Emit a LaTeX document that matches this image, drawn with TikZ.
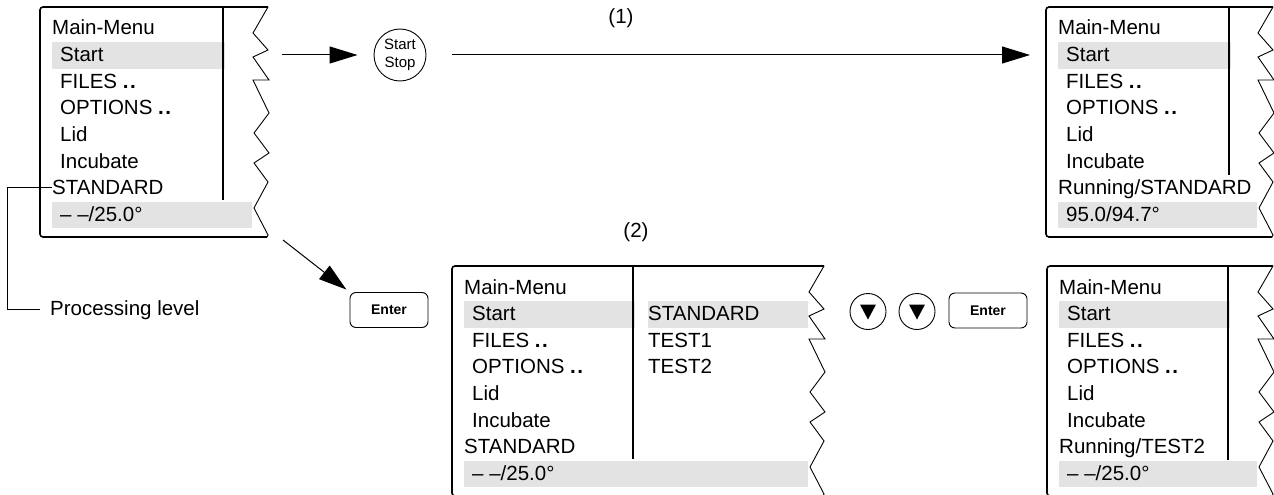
\documentclass[tikz,border=0pt]{standalone}
\usepackage{fontspec}
\setmainfont{Liberation Sans}
\usetikzlibrary{arrows.meta}

% frame of a menu screen: #1 left, #2 top, #3 separator x, #4 separator end, #5 torn edge x
\newcommand{\menuframe}[5]{%
\draw[frame] (#5,#2) -- (#1,#2) -- (#1,#2+230) -- (#5-1,#2+230);
\draw[sep] (#3,#2) -- (#3,#4);
\draw[zig] (#5,#2) -- ++(-15,26) -- ++(15,17) -- ++(-15,7) -- ++(16,23) -- ++(-16,0)
  -- ++(16,33) -- ++(-15,20) -- ++(15,20) -- ++(-15,10) -- ++(14,19) -- ++(-14,26)
  -- ++(14,27) -- (#5-1,#2+230);
}
% grey bars: #1 left, #2 top, #3 separator x, #4 torn edge x
\newcommand{\menubars}[4]{%
\fill[hl] (#1+12,#2+35) rectangle (#3+2,#2+62);
\fill[hl] (#1+12,#2+195) rectangle (#4-16,#2+221);
}
% lines of a menu screen: #1 left, #2 top, #3 state, #4 temperature, #5 name
\newcommand{\menutext}[5]{%
\node[item] (#5-0) at (#1+12,#2+28) {Main-Menu};
\foreach \t [count=\i] in {Start,FILES \textbf{.\kern1.5pt.},OPTIONS \textbf{.\kern1.5pt.},Lid,Incubate}
  \node[item] (#5-\i) at (#1+20,#2+28+26.6*\i) {\t};
\node[item] (#5-6) at (#1+12,#2+187.6) {#3};
\node[item] (#5-7) at (#1+20,#2+214.2) {#4};
}

\begin{document}
\begin{tikzpicture}[x=1pt,y=-1pt,>={Triangle[length=28pt,width=17pt]}]
\tikzset{
    item/.style={%
        anchor=base west,
        inner sep=0pt,
        font=\fontsize{20.5}{24}\selectfont
        },
    hl/.style={fill=black!11},
    frame/.style={draw=black, line width=1.6pt, rounded corners=3pt},
    sep/.style={draw=black, line width=1.2pt},
    zig/.style={draw=black, line width=0.9pt},
    key/.style={%
        draw, line width=0.9pt,
        rectangle,
        rounded corners=6pt,
        minimum height=35pt,
        minimum width=78pt,
        font=\fontsize{14}{16}\selectfont\bfseries
        },
    roundkey/.style={draw, line width=0.9pt, circle, inner sep=0pt},
    conn/.style={line width=1pt},
}
\useasboundingbox (0,0) rectangle (1274,495);
%%%GREY BARS
\menubars{40}{7}{223}{268}
\menubars{1046}{7}{1229}{1273}
\menubars{452}{266}{633}{824}
\menubars{1047}{266}{1228}{1273}
\fill[hl] (648,301) rectangle (808,328);
%%%SCREENS
\menuframe{40}{7}{223}{200}{268}
\menuframe{1046}{7}{1229}{175}{1273}
\menuframe{452}{266}{633}{459}{824}
\menuframe{1047}{266}{1228}{460}{1273}
\menutext{40}{7}{STANDARD}{\textendash\ \textendash/25.0°}{m1}
\menutext{1046}{7}{Running/STANDARD}{95.0/94.7°}{m2}
\menutext{452}{266}{STANDARD}{\textendash\ \textendash/25.0°}{m3}
\menutext{1047}{266}{Running/TEST2}{\textendash\ \textendash/25.0°}{m4}
\node[item] (p1) at (648,320.6) {STANDARD};
\node[item] (p2) at (648,347.2) {TEST1};
\node[item] (p3) at (648,373.8) {TEST2};
%%%KEYS
\node[roundkey, minimum size=52pt, align=center, font=\fontsize{15}{18}\selectfont] (startstop) at (400,55) {Start\\Stop};
\node[key] (enter1) at (389,310) {Enter};
\node[roundkey, minimum size=36pt] (dn1) at (868,311.5) {};
\node[roundkey, minimum size=36pt] (dn2) at (917,311.5) {};
\fill (dn1.center) ++(-8,-7) -- ++(16,0) -- ++(-8,15) -- cycle;
\fill (dn2.center) ++(-8,-7) -- ++(16,0) -- ++(-8,15) -- cycle;
\node[key] (enter2) at (988,310.5) {Enter};
%%%LABELS
\node[font=\fontsize{20.5}{24}\selectfont] (lab1) at (621,18) {(1)};
\node[font=\fontsize{20.5}{24}\selectfont] (lab2) at (636,232) {(2)};
\node[item] (proclvl) at (50,315) {Processing level};
%%%CONNECTORS
\coordinate (a1) at (282,55);
\coordinate (a2) at (283,240);
\coordinate (b2) at (1030,55);
\draw[->, conn, shorten >=16pt] (a1) -- (startstop.west);
\draw[->, conn, shorten <=26pt] (startstop.east) -- (b2);
\draw[->, conn, shorten >=4pt] (a2) -- (enter1.north west);
\draw[line width=0.8pt] (m1-6.west) -- ++(-45,0) |- ([xshift=-10pt]proclvl.west);
\end{tikzpicture}
\end{document}
